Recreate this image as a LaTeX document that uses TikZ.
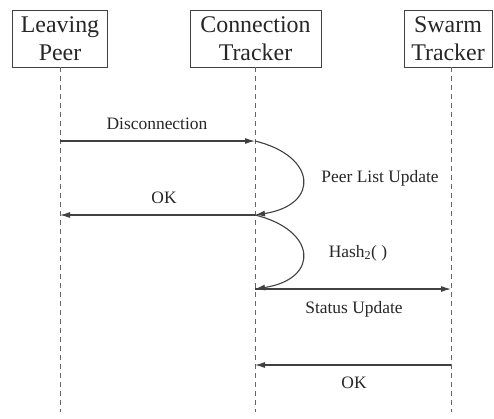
\documentclass[tikz,border=0pt]{standalone}
\usepackage{fontspec}
\setmainfont{Liberation Serif}
\usetikzlibrary{arrows.meta}
\begin{document}
\begin{tikzpicture}[x=1bp,y=-1bp,
  actor/.style={draw=black!75,line width=1bp,minimum height=57bp,inner sep=0pt,align=center,font=\fontsize{24}{28}\selectfont,text=black!85},
  life/.style={draw=black!60,line width=1bp,dash pattern=on 5bp off 4bp},
  msg/.style={draw=black!75,line width=1.1bp,-{Latex[length=10bp,width=6bp]}},
  lbl/.style={font=\fontsize{17.5}{20}\selectfont,text=black!85,inner sep=0pt}]
\useasboundingbox (0,0) rectangle (494,418);
\node[actor,minimum width=94bp] (lp) at (60,38.5) {Leaving\\Peer};
\node[actor,minimum width=131bp] (ct) at (255.5,38.5) {Connection\\Tracker};
\node[actor,minimum width=88bp] (st) at (448,38.5) {Swarm\\Tracker};
\coordinate (lpe) at (60,412);
\coordinate (cte) at (255,412);
\coordinate (ste) at (451,412);
\coordinate (lpt) at (60,67);
\coordinate (ctt) at (255,67);
\coordinate (stt) at (451,67);
\draw[life] (lpt) -- (lpe);
\draw[life] (ctt) -- (cte);
\draw[life] (stt) -- (ste);
% messages
\coordinate (a1) at (60,141);
\coordinate (b1) at (255,141);
\coordinate (b2) at (255,215);
\coordinate (a2) at (60,215);
\coordinate (b3) at (255,289);
\coordinate (c3) at (451,289);
\coordinate (c4) at (451,365);
\coordinate (b4) at (255,365);
\draw[msg] (a1) -- (b1);
\draw[msg] (b1) .. controls (317,156) and (320,205) .. (b2);
\draw[msg] (b2) -- (a2);
\draw[msg] (b2) .. controls (317,230) and (320,279) .. (b3);
\draw[msg] (b3) -- (c3);
\draw[msg] (c4) -- (b4);
\node[lbl] (l1) at (157,124) {Disconnection};
\node[lbl] (l2) at (380,178) {Peer List Update};
\node[lbl] (l3) at (164,198) {OK};
\node[lbl] (l4) at (358,253) {Hash\textsubscript{2}( )};
\node[lbl] (l5) at (354,309) {Status Update};
\node[lbl] (l6) at (354,383) {OK};
\end{tikzpicture}
\end{document}
